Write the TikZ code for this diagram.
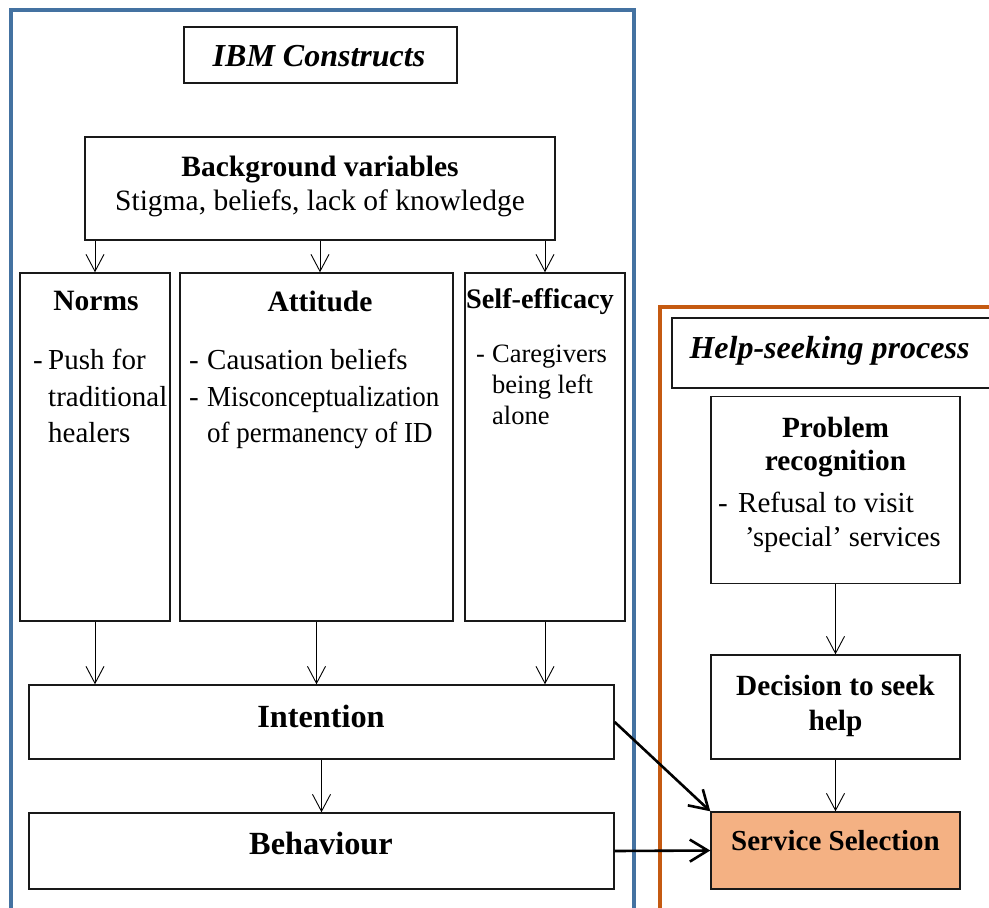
\documentclass[tikz,border=0pt]{standalone}
\usepackage{fontspec}
\setmainfont{Liberation Serif}
\usetikzlibrary{arrows.meta}
\definecolor{frameblue}{RGB}{68,114,161}
\definecolor{frameorange}{RGB}{197,90,17}
\definecolor{servfill}{RGB}{244,177,131}
\newcommand{\fsz}[1]{\fontsize{#1}{#1}\selectfont}
\begin{document}
\begin{tikzpicture}[x=1pt,y=-1pt,
  box/.style={draw=black!90, line width=1.4pt, rectangle, inner sep=0pt},
  thickbox/.style={box, line width=2.2pt},
  thinarrow/.style={draw=black, line width=0.9pt, -{Straight Barb[length=17pt,width=18pt,line width=0.9pt]}},
  thickarrow/.style={draw=black, line width=2.6pt, -{Straight Barb[length=18pt,width=22pt,line width=2.6pt]}},
  frame/.style={line width=3.6pt},
  txt/.style={inner sep=0pt, anchor=base},
  ltxt/.style={inner sep=0pt, anchor=base west},
  title/.style={txt, font=\fsz{32}\bfseries\itshape},
  head/.style={txt, font=\fsz{29.5}\bfseries},
  body/.style={ltxt, font=\fsz{29}},
  rhead/.style={txt, font=\fsz{29.3}\bfseries},
  bigh/.style={txt, font=\fsz{32.3}\bfseries}
]
\useasboundingbox (0,0) rectangle (989,908);
\fill[white] (0,0) rectangle (989,908);
\begin{scope}
\clip (0,0) rectangle (989,908);
\draw[frame, draw=frameblue] (11,920) -- (11,10) -- (634,10) -- (634,920);
\draw[frame, draw=frameorange] (660,920) -- (660,307) -- (1000,307);
\end{scope}

% IBM side boxes
\node[box, minimum width=273pt, minimum height=56pt] (ibm) at (320.5,55) {};
\node[thickbox, minimum width=470pt, minimum height=103pt] (bg) at (320,188.5) {};
\node[box, minimum width=150pt, minimum height=348pt] (norms) at (95,447) {};
\node[box, minimum width=273pt, minimum height=348pt] (att) at (316.5,447) {};
\node[box, minimum width=160pt, minimum height=348pt] (self) at (545,447) {};
\node[box, minimum width=585pt, minimum height=74pt] (intent) at (321.5,722) {};
\node[box, minimum width=585pt, minimum height=76pt] (behav) at (321.5,851) {};

% Help-seeking side boxes
\node[box, minimum width=318pt, minimum height=70pt] (help) at (831,353) {};
\node[box, minimum width=249pt, minimum height=187pt] (prob) at (835.5,490) {};
\node[box, minimum width=249pt, minimum height=104pt] (dec) at (835.5,707) {};
\node[box, fill=servfill, minimum width=249pt, minimum height=77pt] (serv) at (835.5,850.5) {};

% Texts
\node[title] (ibmt) at (319,66) {IBM Constructs};
\node[head] (bgt1) at (320,176) {Background variables};
\node[txt, font=\fsz{29.5}] (bgt2) at (320,210) {Stigma, beliefs, lack of knowledge};

\node[head] (normst) at (96,310) {Norms};
\node[body] (nd) at (33,369) {-};
\node[body] (n1) at (48,369) {Push for};
\node[body] (n2) at (48,406) {traditional};
\node[body] (n3) at (48,442) {healers};

\node[head] (attt) at (320,311) {Attitude};
\node[body] (ad1) at (189,369) {-};
\node[body] (a1) at (207,369) {Causation beliefs};
\node[body] (ad2) at (189,406) {-};
\node[body] (a2) at (207,406) {\scalebox{0.93}[1]{Misconceptualization}};
\node[body] (a3) at (207,442) {\scalebox{0.93}[1]{of permanency of ID}};

\node[txt, font=\fsz{28.3}\bfseries] (selft) at (540,308) {Self-efficacy};
\node[ltxt, font=\fsz{26.5}] (sd) at (476,362) {-};
\node[ltxt, font=\fsz{26.5}] (s1) at (492,362) {Caregivers};
\node[ltxt, font=\fsz{26.5}] (s2) at (492,393) {being left};
\node[ltxt, font=\fsz{26.5}] (s3) at (492,424) {alone};

\node[bigh] (intt) at (321,727) {Intention};
\node[bigh] (behavt) at (321,854) {Behaviour};

\node[title] (helpt) at (829.5,358) {Help-seeking process};
\node[rhead] (pt1) at (835.5,437) {Problem};
\node[rhead] (pt2) at (835.5,470) {recognition};
\node[body] (pd) at (718,512) {-};
\node[body] (p1) at (738,512) {Refusal to visit};
\node[ltxt, font=\fsz{28.5}] (p2) at (745,546) {’special’ services};

\node[rhead] (dt1) at (835.5,695) {Decision to seek};
\node[rhead] (dt2) at (835.5,730) {help};
\node[txt, font=\fsz{29}\bfseries] (st) at (835.5,850) {Service Selection};

% Connectors
\draw[thinarrow] (bg.south -| norms.north) -- (norms.north);
\draw[thinarrow] (bg.south) -- (bg.south |- att.north);
\draw[thinarrow] (bg.south -| self.north) -- (self.north);
\draw[thinarrow] (norms.south) -- (norms.south |- intent.north);
\draw[thinarrow] (att.south) -- (att.south |- intent.north);
\draw[thinarrow] (self.south) -- (self.south |- intent.north);
\draw[thinarrow] (intent.south) -- (behav.north);
\draw[thinarrow] (prob.south) -- (dec.north);
\draw[thinarrow] (dec.south) -- (serv.north);
\draw[thickarrow] (intent.east) -- (serv.north west);
\draw[thickarrow] (behav.east) -- (serv.west);
\end{tikzpicture}
\end{document}
